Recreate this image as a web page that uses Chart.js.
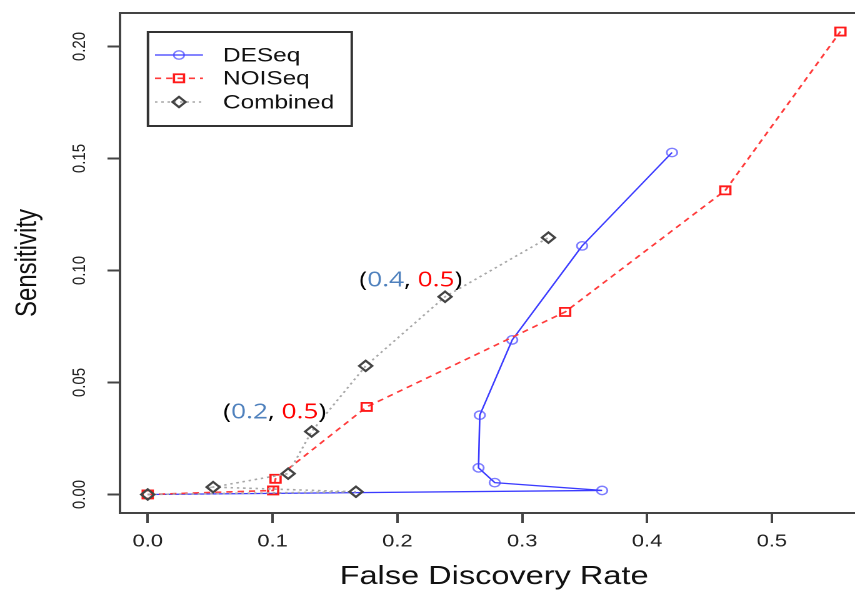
<!DOCTYPE html>
<html>
<head>
<meta charset="utf-8">
<title>FDR vs Sensitivity</title>
<script src="https://cdn.jsdelivr.net/npm/chart.js@4.4.1/dist/chart.umd.min.js"></script>
<style>
  html, body { margin: 0; padding: 0; background: #fff; overflow: hidden; }
  #wrap { width: 855px; height: 590px; overflow: hidden; position: relative; }
  /* R device output is wider than tall-pixel; stretch the plot horizontally */
  #chart { position: absolute; left: 0; top: 0; transform: scaleX(1.25); transform-origin: 0 0; }
</style>
</head>
<body>
<div id="wrap"><canvas id="chart" width="696" height="590"></canvas></div>
<script>
'use strict';

// FDR / sensitivity pairs, in the order the cut-offs were swept
const desFdr  = [0, 0.364, 0.278, 0.265, 0.266, 0.292, 0.348, 0.420];
const desSens = [0, 0.0018, 0.0053, 0.0119, 0.0354, 0.069, 0.111, 0.1527];
const noiFdr  = [0, 0.1005, 0.1024, 0.1754, 0.3344, 0.4627, 0.5549];
const noiSens = [0, 0.0018, 0.0070, 0.0391, 0.0815, 0.1358, 0.2067];
const comFdr  = [0, 0.1668, 0.0524, 0.1125, 0.1313, 0.1746, 0.2382, 0.321];
const comSens = [0, 0.0012, 0.0033, 0.0093, 0.0281, 0.0574, 0.0883, 0.1147];

const xTicks = [0, 0.1, 0.2, 0.3, 0.4, 0.5];
const yTicks = [0, 0.05, 0.10, 0.15, 0.20];

// cut-off labels: (DESeq, NOISeq) placed at FDR / sensitivity coords
const noteX   = [0.1018, 0.2108];
const noteY   = [0.0367, 0.0955];
const noteDes = ['0.2', '0.4'];
const noteNoi = ['0.5', '0.5'];

// R style axis limits: data range plus 4% each side
const rRange = (vals) => {
    const lo = Math.min(...vals), hi = Math.max(...vals);
    const pad = (hi - lo) * 0.04;
    return [lo - pad, hi + pad];
};
const [xMin, xMax] = rRange([...desFdr, ...noiFdr, ...comFdr]);
const [yMin, yMax] = rRange([...desSens, ...noiSens, ...comSens]);

const SANS = 'Liberation Sans';
const PLOT_RIGHT = 694;   // right edge of the plot box (runs past the visible area)

const mkSet = (label, xs, ys, opts) => Object.assign({
    label,
    data: xs.map((x, i) => ({ x, y: ys[i] })),
    showLine: true, fill: false, tension: 0,
    pointBackgroundColor: 'rgba(0,0,0,0)',
    pointHoverRadius: 0
}, opts);

const makeDatasets = () => [
    mkSet('DESeq', desFdr, desSens, {
        borderColor: '#3b3bff', borderWidth: 1.3,
        pointStyle: 'circle', pointRadius: 4.2,
        pointBorderColor: 'rgba(70,70,255,0.7)', pointBorderWidth: 1.4, order: 2
    }),
    mkSet('NOISeq', noiFdr, noiSens, {
        borderColor: '#ff3b3b', borderWidth: 1.6, borderDash: [5, 4],
        pointStyle: 'rect', pointRadius: 5.7,
        pointBorderColor: '#ff1a1a', pointBorderWidth: 1.8, order: 1
    }),
    mkSet('Combined', comFdr, comSens, {
        borderColor: '#a8a8a8', borderWidth: 1.6, borderDash: [2, 3],
        pointStyle: 'rectRot', pointRadius: 5.2,
        pointBorderColor: '#444', pointBorderWidth: 2, order: 0
    })
];

// marker helper for the legend (same shapes as the points)
const marker = (ctx, ds, x, y) => {
    ctx.save();
    ctx.setLineDash([]);
    ctx.strokeStyle = ds.pointBorderColor;
    ctx.fillStyle = 'rgba(0,0,0,0)';
    ctx.lineWidth = ds.pointBorderWidth;
    Chart.helpers.drawPoint(ctx, {
        pointStyle: ds.pointStyle, radius: ds.pointRadius,
        borderWidth: ds.pointBorderWidth, rotation: 0
    }, x, y);
    ctx.restore();
};

const extras = {
    id: 'extras',
    afterDatasetsDraw(chart) {
        const { ctx, chartArea: a, scales } = chart;
        ctx.save();

        // plot box
        ctx.strokeStyle = '#444';
        ctx.lineWidth = 2;
        ctx.strokeRect(a.left, a.top, a.right - a.left, a.bottom - a.top);

        // cut-off annotations
        ctx.font = '21px "Open Sans"';
        ctx.textBaseline = 'middle';
        ctx.textAlign = 'left';
        noteX.forEach((nx, i) => {
            const parts = [
                ['(', '#000'], [noteDes[i], '#4f81bd'], [', ', '#000'],
                [noteNoi[i], '#ff0000'], [')', '#000']
            ];
            const total = parts.reduce((s, p) => s + ctx.measureText(p[0]).width, 0);
            let px = scales.x.getPixelForValue(nx) - total / 2;
            const py = scales.y.getPixelForValue(noteY[i]);
            parts.forEach(([t, c]) => {
                ctx.fillStyle = c;
                ctx.fillText(t, px, py);
                px += ctx.measureText(t).width;
            });
        });

        // legend
        const bx = a.left + 22.4, by = a.top + 19, bw = 163, bh = 94;
        ctx.fillStyle = '#fff';
        ctx.fillRect(bx, by, bw, bh);
        ctx.strokeStyle = '#333';
        ctx.lineWidth = 2;
        ctx.strokeRect(bx, by, bw, bh);
        const rows = [23, 46.3, 70];
        ctx.font = `19.5px "${SANS}"`;
        chart.data.datasets.forEach((ds, i) => {
            const ry = by + rows[i];
            ctx.save();
            ctx.strokeStyle = ds.borderColor;
            ctx.lineWidth = ds.borderWidth;
            ctx.setLineDash(ds.borderDash || []);
            ctx.beginPath();
            ctx.moveTo(bx + 5.6, ry);
            ctx.lineTo(bx + 44, ry);
            ctx.stroke();
            ctx.restore();
            marker(ctx, ds, bx + 24.8, ry);
            ctx.fillStyle = '#111';
            ctx.fillText(ds.label, bx + 60, ry + 1);
        });

        ctx.restore();
    }
};

const makeConfig = () => ({
    type: 'scatter',
    data: { datasets: makeDatasets() },
    plugins: [extras],
    options: {
        responsive: false,
        maintainAspectRatio: false,
        devicePixelRatio: 2,
        animation: false,
        events: [],
        layout: { padding: { top: 13, right: 0, left: 0, bottom: 0 } },
        plugins: { legend: { display: false }, tooltip: { enabled: false } },
        scales: {
            x: {
                type: 'linear', min: xMin, max: xMax, bounds: 'data',
                afterBuildTicks: (s) => { s.ticks = xTicks.map(v => ({ value: v })); },
                afterFit: (s) => { s.height = 77; s.paddingLeft = 0; s.paddingRight = 0; },
                ticks: {
                    callback: (v) => v.toFixed(1),
                    font: { family: SANS, size: 17.5 }, color: '#222',
                    padding: 8, maxRotation: 0, autoSkip: false
                },
                grid: { drawOnChartArea: false, tickLength: 10, tickColor: '#444', tickWidth: 2 },
                border: { display: false },
                title: {
                    display: true, text: 'False Discovery Rate', color: '#111',
                    font: { family: SANS, size: 26, lineHeight: 1 }, padding: 0
                }
            },
            y: {
                type: 'linear', min: yMin, max: yMax, bounds: 'data',
                afterBuildTicks: (s) => { s.ticks = yTicks.map(v => ({ value: v })); },
                afterFit: (s) => { s.width = 96; s.paddingTop = 0; s.paddingBottom = 0; },
                ticks: {
                    callback: (v) => v.toFixed(2),
                    font: { family: SANS, size: 15 }, color: '#222',
                    padding: 7.4, minRotation: 90, maxRotation: 90,
                    crossAlign: 'center', autoSkip: false
                },
                grid: { drawOnChartArea: false, tickLength: 10, tickColor: '#444', tickWidth: 2 },
                border: { display: false },
                title: {
                    display: true, text: 'Sensitivity', color: '#111',
                    font: { family: SANS, size: 24, lineHeight: 1 }, padding: { top: 10.4 }
                }
            }
        }
    }
});

// the layout keeps a small right margin of its own; widen the canvas until
// the plot box reaches PLOT_RIGHT
const canvas = document.getElementById('chart');
let canvasW = 696;
let chart = null;
for (let k = 0; k < 4; k++) {
    canvas.setAttribute('width', canvasW);
    canvas.setAttribute('height', 590);
    canvas.style.width = '';
    canvas.style.height = '';
    chart = new Chart(canvas, makeConfig());
    const gap = PLOT_RIGHT - chart.chartArea.right;
    if (Math.abs(gap) < 0.5 || k === 3) break;
    chart.destroy();
    canvasW = Math.round(canvasW + gap);
}
</script>
</body>
</html>
